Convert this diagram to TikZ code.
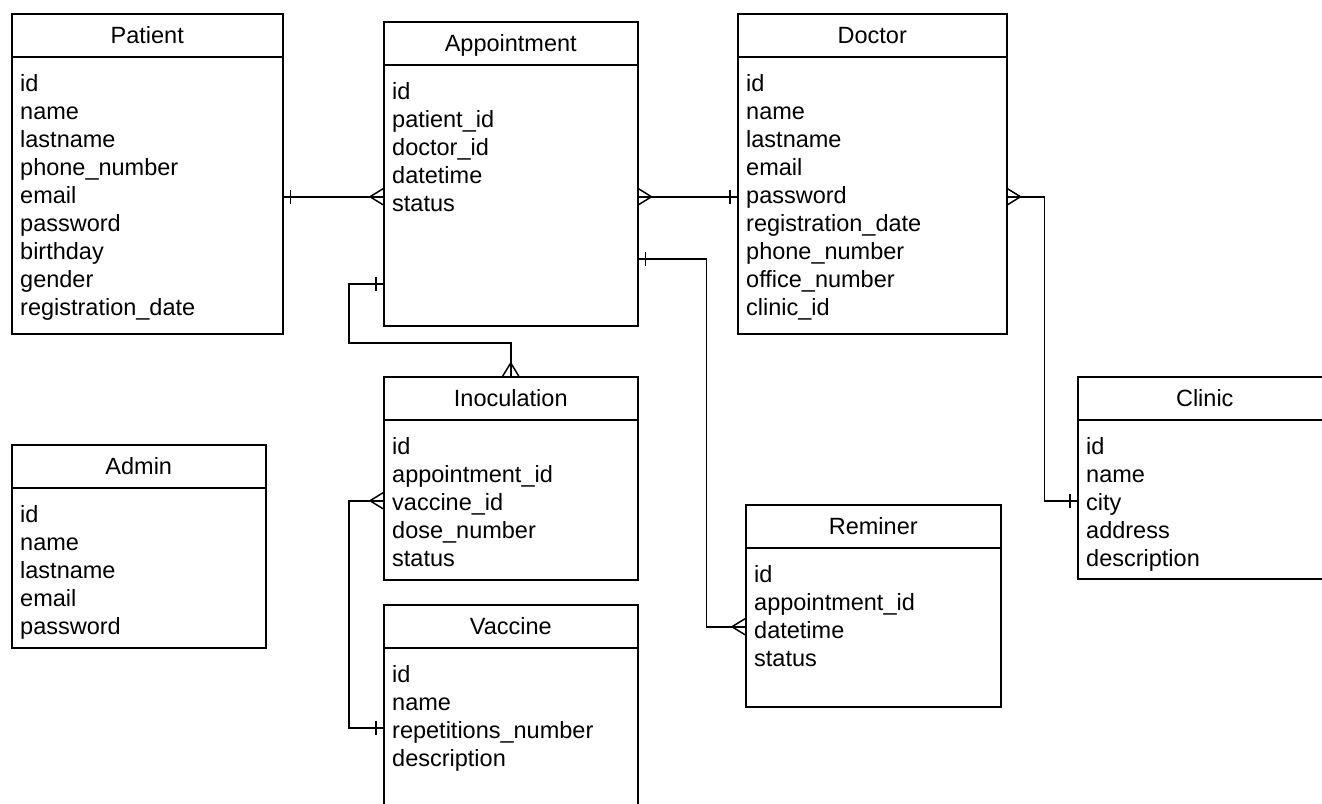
\documentclass[tikz,border=0pt]{standalone}
\usepackage{fontspec}
\setmainfont{Liberation Sans}
\usetikzlibrary{decorations.markings}

\tikzset{
  every node/.style={font=\fontsize{23.5}{28}\selectfont},
  entity/.style={draw, line width=1.5pt, anchor=north west, inner sep=0pt},
  title/.style={anchor=base, inner sep=0pt},
  field/.style={anchor=base west, inner sep=0pt},
  rel/.style={line width=1.5pt},
  onefrom/.style={postaction={decorate, decoration={markings,
      mark=at position 0 with {\draw[line width=1.5pt] (7pt,-7pt) -- (7pt,7pt);}}}},
  oneto/.style={postaction={decorate, decoration={markings,
      mark=at position 1 with {\draw[line width=1.5pt] (-7pt,-7pt) -- (-7pt,7pt);}}}},
  manyfrom/.style={postaction={decorate, decoration={markings,
      mark=at position 0 with {\draw[line width=1.5pt] (0,-8pt) -- (13pt,0) -- (0,8pt);}}}},
  manyto/.style={postaction={decorate, decoration={markings,
      mark=at position 1 with {\draw[line width=1.5pt] (0,-8pt) -- (-13pt,0) -- (0,8pt);}}}}
}

% name, x, y, width, height, title, fields
\newcommand{\entity}[7]{%
  \node[entity, minimum width=#4pt, minimum height=#5pt] (#1) at (#2,#3) {};
  \draw[line width=1.5pt] ([yshift=-44pt]#1.north west) -- ([yshift=-44pt]#1.north east);
  \node[title] (#1-title) at ([yshift=-30.4pt]#1.north) {#6};
  \foreach \fld [count=\i] in {#7}
    \node[field] (#1-\i) at ([xshift=9pt,yshift=-50.5pt-28pt*\i]#1.north west) {\fld};
}

\begin{document}
\begin{tikzpicture}[x=1pt,y=-1pt]
  \useasboundingbox (0,0) rectangle (1322,803);

  % tables
  \entity{patient}{11}{13}{271}{320}{Patient}{id, name, lastname, phone\_number, email, password, birthday, gender, registration\_date}
  \entity{appointment}{383}{21}{254}{304}{Appointment}{id, patient\_id, doctor\_id, datetime, status}
  \entity{doctor}{737}{13}{269}{320}{Doctor}{id, name, lastname, email, password, registration\_date, phone\_number, office\_number, clinic\_id}
  \entity{clinic}{1077}{376}{254}{202}{Clinic}{id, name, city, address, description}
  \entity{admin}{11}{444}{254}{203}{Admin}{id, name, lastname, email, password}
  \entity{inoculation}{383}{376}{254}{203}{Inoculation}{id, appointment\_id, vaccine\_id, dose\_number, status}
  \entity{vaccine}{383}{604}{254}{203}{Vaccine}{id, name, repetitions\_number, description}
  \entity{reminer}{745}{504}{255}{202}{Reminer}{id, appointment\_id, datetime, status}

  % relations
  \draw[rel, onefrom, manyto] ([yshift=-23pt]patient.east) -- ([yshift=-23pt]appointment.west);
  \draw[rel, manyfrom, oneto] ([yshift=-23pt]appointment.east) -- ([yshift=-23pt]doctor.west);
  \draw[rel, onefrom, manyto] ([yshift=-110pt]appointment.west) -- ++(-34pt,0)
    |- ([yshift=33pt]inoculation.north) -- (inoculation.north);
  \draw[rel, onefrom, manyto] ([yshift=-85pt]appointment.east) -- ++(68pt,0)
    |- ([yshift=-21pt]reminer.west);
  \draw[rel, manyfrom, oneto] ([yshift=-23pt]doctor.east) -- ++(37pt,0)
    |- ([yshift=-23pt]clinic.west);
  \draw[rel, manyfrom, oneto] ([yshift=-22.5pt]inoculation.west) -- ++(-34pt,0)
    |- ([yshift=-21.5pt]vaccine.west);
\end{tikzpicture}
\end{document}
